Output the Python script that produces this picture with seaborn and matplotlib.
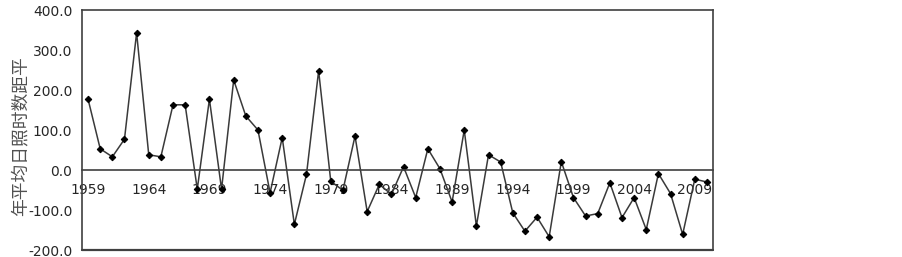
import numpy as np
import pandas as pd
import matplotlib
matplotlib.use('Agg')
import matplotlib.pyplot as plt
import seaborn as sns

# ── Data ───────────────────────────────────────────────
years = list(range(1959, 2011))
anomaly = [177, 53, 33, 77, 343, 38, 33, 163, 163, -48,
           177, -48, 225, 135, 100, -57, 81, -136, -11, 248,
           -28, -51, 85, -104, -36, -61, 8, -69, 53, 3,
           -80, 100, -140, 38, 20, -107, -153, -118, -167, 21,
           -69, -115, -109, -32, -119, -69, -149, -9, -59, -161,
           -23, -30]
label_years = list(range(1959, 2011, 5))
y_ticks = [-200, -100, 0, 100, 200, 300, 400]
y_label = '年平均日照时数距平'
# ───────────────────────────────────────────────────────

df = pd.DataFrame({'year': years, 'anomaly': anomaly})

sns.set_style('white')
plt.rcParams['font.family'] = ['DejaVu Sans', 'Noto Sans CJK SC']

fig = plt.figure(figsize=(9.03, 2.57), dpi=100)
ax = fig.add_axes([82 / 903, 1 - 250 / 257, 631 / 903, 240 / 257])

sns.lineplot(data=df, x='year', y='anomaly', ax=ax, color='#3a3a3a',
             linewidth=1.1, marker='D', markersize=3.3,
             markerfacecolor='black', markeredgecolor='black')

ax.set_xlim(years[0] - 0.5, years[-1] + 0.5)
ax.set_ylim(y_ticks[0], y_ticks[-1])
ax.set_yticks(y_ticks)
ax.set_yticklabels([f'{v:.1f}' for v in y_ticks])

# category axis crossing at zero, tick marks between categories
ax.spines['bottom'].set_position(('data', 0))
ax.set_xticks([y - 0.5 for y in label_years[1:]])
ax.set_xticklabels([])
ax.set_xticks(label_years, minor=True)
ax.set_xticklabels([str(y) for y in label_years], minor=True)
ax.tick_params(axis='x', which='major', direction='in', length=4,
               width=1, color='#404040')
ax.tick_params(axis='x', which='minor', length=0, pad=9, labelsize=10)
ax.tick_params(axis='y', length=0, pad=7, labelsize=10)

for s in ax.spines.values():
    s.set_color('#404040')
    s.set_linewidth(1.2)
# bottom frame line of the plot box
ax.plot([0, 1], [0, 0], transform=ax.transAxes, color='#404040',
        linewidth=1.6, clip_on=False)

ax.set_xlabel('')
ax.set_ylabel(y_label, family=['Noto Sans CJK SC', 'DejaVu Sans'],
              fontsize=12.8, color='#505050', va='center')
ax.yaxis.set_label_coords(-0.098, 0.475)

fig.savefig('out.png', dpi=100)
